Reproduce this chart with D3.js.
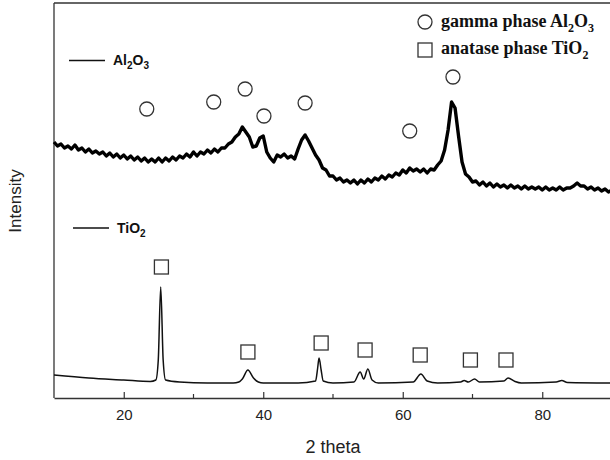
<!DOCTYPE html>
<html>
<head>
<meta charset="utf-8">
<script src="https://cdn.jsdelivr.net/npm/d3@7"></script>
<style>
  body { margin: 0; background: #fff; }
  svg { display: block; }
</style>
</head>
<body>
<div id="chart"></div>
<script>
var al2o3Start = 10, al2o3Step = 0.5
var al2o3Int = [
  256, 252, 254, 250, 252, 249, 253, 248, 250, 246, 249, 245, 247, 244, 246, 242,
  245, 241, 244, 240, 243, 239, 242, 238, 241, 237, 240, 236, 239, 236, 240, 236,
  240, 237, 241, 238, 242, 240, 244, 241, 246, 242, 246, 244, 248, 245, 249, 246,
  250, 250, 254, 256, 261, 264, 271, 266, 261, 251, 252, 260, 262, 246, 240, 236,
  243, 241, 244, 240, 242, 239, 249, 258, 263, 257, 250, 243, 238, 230, 228, 222,
  222, 218, 220, 216, 218, 215, 218, 214, 218, 215, 219, 216, 220, 218, 222, 219,
  223, 221, 225, 223, 228, 225, 230, 227, 229, 226, 229, 225, 229, 228, 233, 237,
  248, 268, 296, 290, 262, 236, 224, 221, 216, 217, 213, 216, 212, 215, 211, 214,
  211, 213, 210, 213, 210, 212, 209, 212, 209, 211, 209, 211, 208, 211, 208, 210,
  208, 211, 208, 210, 210, 212, 215, 212, 212, 209, 211, 208, 210, 207, 209, 206,
  208
]

// TiO2 pattern
var tio2Theta = [10, 15, 20, 23.8, 24.6, 24.95, 25.3, 25.65, 26, 28, 32, 35.7, 36.5, 37, 37.8, 38.6, 39.3, 40, 45, 47.5, 47.8, 48, 48.3, 48.6, 50, 53, 53.9, 54.4, 55, 55.6, 56.5, 61.5, 62.6, 63.5, 65, 68.3, 68.8, 69.4, 70.3, 71, 74.5, 75.1, 76.1, 77, 82, 82.8, 83.6, 90]
var tio2Int   = [23, 20, 18, 16.5, 18, 38, 111, 38, 18, 16, 15, 15, 16, 19, 28, 20, 16, 15, 15, 17, 30, 40, 28, 17, 15, 16, 26, 19, 29, 18, 15, 16, 24, 17, 15, 16, 17.5, 16, 19, 16, 17, 20, 16.5, 15, 16, 17.5, 15.5, 15]

// phase markers
var gammaTheta = [23.3, 32.9, 37.4, 40.1, 46.0, 61.0, 67.2]
var gammaInt   = [289, 296, 309, 282, 295, 267, 321]
var anataseTheta = [25.4, 37.8, 48.3, 54.6, 62.5, 69.7, 74.8]
var anataseInt   = [131, 46, 55, 48, 43, 38, 38]

var xTicks = [20, 40, 60, 80]
var xMinor = [30, 50, 70]

var width = 610, height = 460
var margin = {top: 3, right: -2, bottom: 62, left: 54}

var svg = d3.select("#chart").append("svg")
    .attr("width", width)
    .attr("height", height)

var x = d3.scaleLinear()
    .domain([10, 90])
    .range([margin.left, width - margin.right])
var y = d3.scaleLinear()
    .domain([0, 395])
    .range([height - margin.bottom, margin.top])

var axisY = height - margin.bottom

// frame: top and left lines
svg.append("line")
    .attr("x1", margin.left).attr("x2", width)
    .attr("y1", margin.top).attr("y2", margin.top)
    .attr("stroke", "#333").attr("stroke-width", 1.3)
svg.append("line")
    .attr("x1", margin.left).attr("x2", margin.left)
    .attr("y1", margin.top).attr("y2", axisY)
    .attr("stroke", "#333").attr("stroke-width", 1.3)

// x axis with inward ticks
var gx = svg.append("g")
    .attr("transform", "translate(0," + axisY + ")")
    .call(d3.axisBottom(x).tickValues(xTicks).tickSizeInner(-6).tickSizeOuter(0).tickPadding(11))
gx.selectAll(".tick text")
    .style("font-family", "Liberation Sans, Arial, sans-serif")
    .style("font-size", "15px")
    .attr("fill", "#222")
gx.select(".domain").attr("stroke", "#333").attr("stroke-width", 1.3)
gx.selectAll(".tick line").attr("stroke", "#333").attr("stroke-width", 1.2)

svg.append("g").selectAll("line")
    .data(xMinor)
    .join("line")
    .attr("x1", d => x(d)).attr("x2", d => x(d))
    .attr("y1", axisY).attr("y2", axisY - 4)
    .attr("stroke", "#333").attr("stroke-width", 1.2)

// axis titles
svg.append("text")
    .attr("x", 333).attr("y", 453)
    .attr("text-anchor", "middle")
    .style("font-family", "Liberation Sans, Arial, sans-serif")
    .style("font-size", "18px")
    .attr("fill", "#222")
    .text("2 theta")
svg.append("text")
    .attr("transform", "translate(21,201) rotate(-90)")
    .attr("text-anchor", "middle")
    .style("font-family", "Liberation Sans, Arial, sans-serif")
    .style("font-size", "17px")
    .attr("fill", "#222")
    .text("Intensity")

// patterns
var alData = al2o3Int.map((v, i) => [al2o3Start + i * al2o3Step, v])
var tiData = tio2Theta.map((t, i) => [t, tio2Int[i]])

svg.append("path")
    .datum(alData)
    .attr("d", d3.line().x(d => x(d[0])).y(d => y(d[1])))
    .attr("fill", "none")
    .attr("stroke", "#000")
    .attr("stroke-width", 3.4)
    .attr("stroke-linejoin", "round")

svg.append("path")
    .datum(tiData)
    .attr("d", d3.line().x(d => x(d[0])).y(d => y(d[1])).curve(d3.curveMonotoneX))
    .attr("fill", "none")
    .attr("stroke", "#111")
    .attr("stroke-width", 1.5)

// peak markers
svg.append("g").selectAll("circle")
    .data(gammaTheta)
    .join("circle")
    .attr("cx", d => x(d))
    .attr("cy", (d, i) => y(gammaInt[i]))
    .attr("r", 7)
    .attr("fill", "none")
    .attr("stroke", "#333")
    .attr("stroke-width", 1.3)

svg.append("g").selectAll("rect")
    .data(anataseTheta)
    .join("rect")
    .attr("x", d => x(d) - 7)
    .attr("y", (d, i) => y(anataseInt[i]) - 7)
    .attr("width", 14)
    .attr("height", 14)
    .attr("fill", "none")
    .attr("stroke", "#333")
    .attr("stroke-width", 1.3)

// text with subscripts: parts = [text, isSub]
function richText(t, parts, subSize, shift) {
    var down = false
    parts.forEach(p => {
        var s = t.append("tspan").text(p[0])
        if (p[1] && !down) { s.attr("dy", shift); down = true }
        else if (!p[1] && down) { s.attr("dy", -shift); down = false }
        if (p[1]) s.style("font-size", subSize)
    })
}

// sample labels
function label(x0, yLine, parts) {
    svg.append("line")
        .attr("x1", x0).attr("x2", x0 + 36)
        .attr("y1", yLine).attr("y2", yLine)
        .attr("stroke", "#111").attr("stroke-width", 1.3)
    var t = svg.append("text")
        .attr("x", x0 + 44).attr("y", yLine + 4.5)
        .style("font-family", "Liberation Sans, Arial, sans-serif")
        .style("font-size", "14px")
        .style("font-weight", "bold")
        .attr("fill", "#111")
    richText(t, parts, "10px", 4)
}
label(69, 60.5, [["Al"], ["2", 1], ["O"], ["3", 1]])
label(73, 228, [["TiO"], ["2", 1]])

// phase legend
svg.append("circle")
    .attr("cx", 425).attr("cy", 22).attr("r", 7)
    .attr("fill", "none").attr("stroke", "#333").attr("stroke-width", 1.3)
svg.append("rect")
    .attr("x", 418).attr("y", 43).attr("width", 14).attr("height", 14)
    .attr("fill", "none").attr("stroke", "#333").attr("stroke-width", 1.3)

function legendText(yb, parts) {
    var t = svg.append("text")
        .attr("x", 441).attr("y", yb)
        .style("font-family", "Liberation Serif, Times New Roman, serif")
        .style("font-size", "18px")
        .style("font-weight", "bold")
        .attr("fill", "#111")
    richText(t, parts, "12px", 5)
}
legendText(27, [["gamma phase Al"], ["2", 1], ["O"], ["3", 1]])
legendText(54, [["anatase phase TiO"], ["2", 1]])
</script>
</body>
</html>
